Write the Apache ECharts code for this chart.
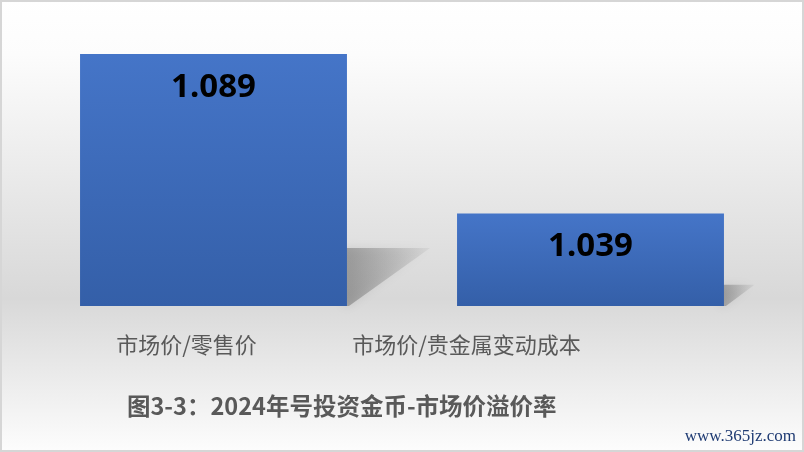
<!DOCTYPE html>
<html>
<head>
<meta charset="utf-8">
<script src="https://cdn.jsdelivr.net/npm/echarts@6/dist/echarts.min.js"></script>
<style>
  html, body { margin: 0; padding: 0; background: #fff; }
  #main { width: 804px; height: 452px; }
</style>
</head>
<body>
<div id="main"></div>
<script>
// 数据
var categories = ['市场价/零售价', '市场价/贵金属变动成本'];
var premiumValues = [1.089, 1.039];
var chartTitle = '图3-3：2024年号投资金币-市场价溢价率';

var chart = echarts.init(document.getElementById('main'));

// 标签偏移（参考图里标签没对齐柱子中心）
var labelShift = [54, 248];

var barGradient = new echarts.graphic.LinearGradient(0, 0, 0, 1, [
  { offset: 0, color: '#4575c8' },
  { offset: 1, color: '#345fa8' }
]);

// 柱子后面的斜投影
function renderShadow(params, api) {
  var idx = api.value(0);
  var top = api.coord([idx, api.value(1)]);
  var base = api.coord([idx, 1.01]);
  var half = api.size([1, 0])[0] * 0.354;
  var h = base[1] - top[1];
  var right = top[0] + half;
  var yTop = base[1] - h * 0.23;
  var dx = h * 0.33;
  return {
    type: 'polygon',
    shape: {
      points: [
        [right - 4, yTop],
        [right + dx, yTop],
        [right + 2, base[1]],
        [right - 4, base[1]]
      ]
    },
    style: {
      fill: new echarts.graphic.LinearGradient(0, 0, 1, 0, [
        { offset: 0, color: 'rgba(80,80,80,0.42)' },
        { offset: 1, color: 'rgba(80,80,80,0.06)' }
      ]),
      shadowBlur: 10,
      shadowColor: 'rgba(80,80,80,0.35)'
    }
  };
}

var option = {
  backgroundColor: new echarts.graphic.LinearGradient(0, 0, 0, 1, [
    { offset: 0, color: '#ffffff' },
    { offset: 0.12, color: '#fcfcfc' },
    { offset: 0.66, color: '#d8d8d8' },
    { offset: 1, color: '#fdfdfd' }
  ]),
  animation: false,
  grid: {
    left: 25,
    right: 25,
    top: 19,
    bottom: 146
  },
  xAxis: {
    type: 'category',
    data: categories.map(function (c, i) {
      return { value: c, textStyle: { padding: [0, labelShift[i], 0, 0] } };
    }),
    axisLine: { show: false },
    axisTick: { show: false },
    axisLabel: {
      margin: 28,
      fontSize: 22,
      color: '#595959',
      fontFamily: 'Noto Sans CJK SC'
    }
  },
  yAxis: {
    type: 'value',
    min: 1.01,
    max: 1.1,
    show: false
  },
  series: [
    {
      type: 'custom',
      renderItem: renderShadow,
      data: premiumValues.map(function (v, i) { return [i, v]; }),
      z: 1,
      silent: true
    },
    {
      type: 'bar',
      data: premiumValues,
      barWidth: '70.8%',
      z: 2,
      itemStyle: { color: barGradient },
      label: {
        show: true,
        position: 'insideTop',
        distance: 17,
        fontSize: 33,
        fontWeight: 'bold',
        fontFamily: 'Noto Sans',
        color: '#000',
        formatter: function (p) { return p.value.toFixed(3); }
      }
    }
  ],
  graphic: [
    {
      type: 'text',
      left: 127,
      top: 394,
      style: {
        text: chartTitle,
        fontSize: 23.5,
        fontWeight: 'bold',
        fontFamily: 'Noto Sans CJK SC',
        fill: '#595959'
      }
    },
    {
      type: 'text',
      right: 8,
      top: 428,
      style: {
        text: 'www.365jz.com',
        fontSize: 17,
        fontFamily: 'Liberation Serif',
        fill: '#1f3b73'
      }
    },
    {
      type: 'rect',
      shape: { x: 1, y: 1, width: 802, height: 450 },
      style: { fill: 'none', stroke: '#d6d6d6', lineWidth: 2 },
      silent: true
    }
  ]
};

chart.setOption(option);
</script>
</body>
</html>
